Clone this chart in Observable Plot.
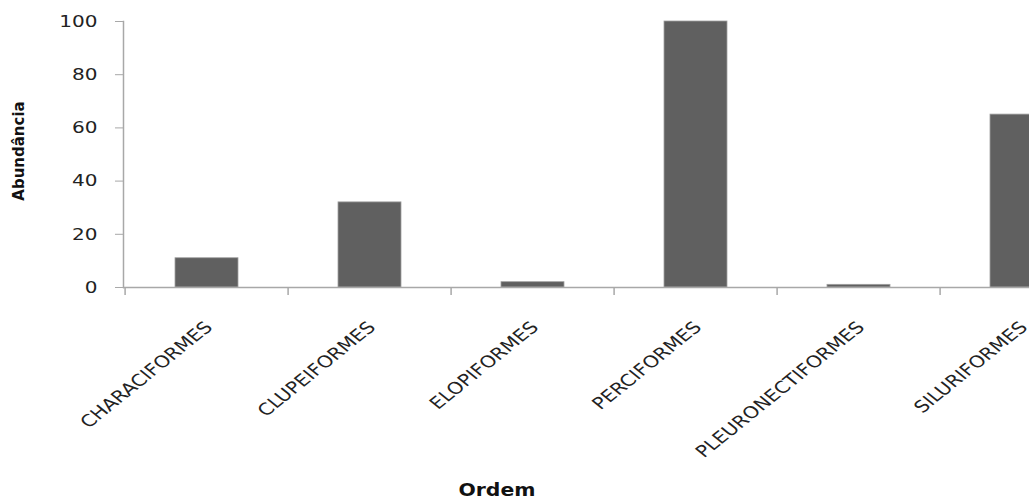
<!DOCTYPE html>
<html>
<head>
<meta charset="utf-8">
<script src="https://cdn.jsdelivr.net/npm/d3@7"></script>
<script src="https://cdn.jsdelivr.net/npm/@observablehq/plot@0.6"></script>
<style>
  html, body { margin: 0; padding: 0; background: #fff; overflow: hidden; }
  #chart { position: relative; width: 1029px; height: 501px; overflow: hidden; }
  #chart svg { position: absolute; left: 0; top: 0; max-width: none !important; height: 501px !important; }
</style>
</head>
<body>
<div id="chart"></div>
<script>
const ordens = ["CHARACIFORMES", "CLUPEIFORMES", "ELOPIFORMES", "PERCIFORMES", "PLEURONECTIFORMES", "SILURIFORMES"];
const abundancia = [11, 32, 2, 100, 1, 65];
const yTicks = [0, 20, 40, 60, 80, 100];
const xTitle = "Ordem";
const yTitle = "Abundância";

const data = ordens.map((o, i) => ({ordem: o, valor: abundancia[i]}));

const marginLeft = 123, marginTop = 21, plotH = 266, marginBottom = 501 - 21 - 266;
const step = 163.8;
const width = marginLeft + step * ordens.length;
const font = "'DejaVu Sans', Verdana, sans-serif";
const stretch = 1.24; // the reference text is drawn slightly wide

const chart = Plot.plot({
  width, height: 501,
  marginLeft, marginRight: 0, marginTop, marginBottom,
  style: {fontFamily: font, fontSize: "16.5px", color: "#222", background: "transparent", overflow: "visible", maxWidth: "none"},
  x: {domain: ordens, padding: 0, label: null},
  y: {domain: [0, 100], label: null},
  marks: [
    Plot.barY(data, {x: "ordem", y: "valor", fill: "#606060", stroke: "#a0a0a0", strokeWidth: 0.8, insetLeft: 50, insetRight: 50}),
    Plot.ruleY([0], {stroke: "#a8a8a8", strokeWidth: 1.5}),
    Plot.ruleX(ordens, {x: d => d, dx: -step / 2, stroke: "#a8a8a8", strokeWidth: 1.5, insetTop: plotH, insetBottom: -8}),
    Plot.axisY({ticks: yTicks, tickSize: 8, tickPadding: 18, stroke: "#a8a8a8", fontSize: 16.5, label: null, textStroke: "none"}),
    Plot.frame({anchor: "left", stroke: "#a8a8a8", strokeWidth: 1.5}),
    Plot.axisX({tickSize: 0, tickRotate: -45, tickPadding: 0, dx: 2, dy: 37, fontSize: 16.5, label: null}),
  ]
});
document.getElementById("chart").appendChild(chart);

const svg = d3.select(chart);
// horizontal stretch of tick labels, applied in screen space
svg.selectAll("[aria-label='x-axis tick label'] text, [aria-label='y-axis tick label'] text").each(function () {
  const t = this.getAttribute("transform") || "";
  if (t.includes("rotate(")) {
    this.setAttribute("transform", t.replace("rotate(", `scale(${stretch},1) rotate(`));
  } else if (t) {
    this.setAttribute("transform", t + ` scale(${stretch * 0.98},1)`);
  }
});

svg.append("text")
  .attr("x", 497).attr("y", 496)
  .attr("text-anchor", "middle")
  .attr("font-family", font).attr("font-weight", "bold").attr("font-size", 17.5)
  .attr("textLength", 77).attr("lengthAdjust", "spacingAndGlyphs")
  .attr("fill", "#111")
  .text(xTitle);
svg.append("text")
  .attr("transform", "translate(24,151) rotate(-90)")
  .attr("text-anchor", "middle")
  .attr("font-family", font).attr("font-weight", "bold").attr("font-size", 15)
  .attr("fill", "#111")
  .text(yTitle);
</script>
</body>
</html>
